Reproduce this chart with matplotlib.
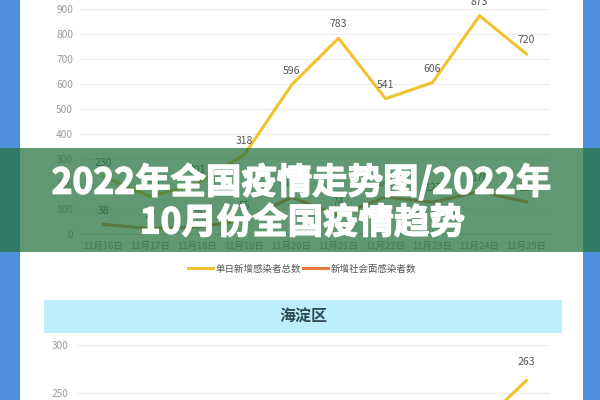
import matplotlib
matplotlib.use("Agg")
import matplotlib.pyplot as plt
import matplotlib.patheffects as pe
from matplotlib.patches import Rectangle
import numpy as np

plt.rcParams['font.family'] = ['Noto Sans CJK SC', 'DejaVu Sans']

# ---- data ----
dates = ["11月16日", "11月17日", "11月18日", "11月19日", "11月20日",
         "11月21日", "11月22日", "11月23日", "11月24日", "11月25日"]
total_new = [230, 150, 201, 318, 596, 783, 541, 606, 873, 720]
social_new = [38, 22, 28, 55, 147, 74, 148, 127, 170, 128]
series_names = ["单日新增感染者总数", "新增社会面感染者数"]
haidian_total = [np.nan] * 8 + [216, 263]
top_yticks = [0, 100, 200, 300, 400, 500, 600, 700, 800, 900]
low_yticks = [250, 300]
title_lines = ["2022年全国疫情走势图/2022年", "10月份全国疫情趋势"]
district = "海淀区"

# ---- style ----
W, H = 600, 400
BLUE = "#4d8fdb"
YELLOW = "#f2c12e"
ORANGE = "#e87d3e"
GRID = "#ececec"
TICK = "#9a9a9a"
LABEL = "#555555"

fig = plt.figure(figsize=(6, 4), dpi=100)
fig.patch.set_facecolor(BLUE)

def fx(px):
    return px / W

def fy(py):
    return (H - py) / H

# background white panel
bg = fig.add_axes([0, 0, 1, 1], zorder=0)
bg.set_xlim(0, 1); bg.set_ylim(0, 1); bg.axis("off")
bg.add_patch(Rectangle((fx(20), 0), fx(583) - fx(20), 1, color="white", lw=0))
# district header bar
bg.add_patch(Rectangle((fx(44), fy(333)), fx(562) - fx(44), fy(300) - fy(333),
                       color="#bdeefb", lw=0))
bg.text(fx(303), fy(317), district, ha="center", va="center", fontsize=11.5,
        fontweight="bold", color="#2e4a52")

def style_axes(ax, yticks, pad):
    ax.set_facecolor("none")
    for s in ["top", "right", "left"]:
        ax.spines[s].set_visible(False)
    ax.spines["bottom"].set_color("#cccccc")
    ax.spines["bottom"].set_linewidth(0.8)
    ax.set_yticks(yticks)
    ax.tick_params(axis="y", length=0, pad=pad, labelsize=7.3, labelcolor=TICK)
    ax.tick_params(axis="x", length=0, pad=6, labelsize=6.8, labelcolor="#888888")
    ax.grid(axis="y", color=GRID, lw=0.8)
    ax.set_axisbelow(True)

# ---- top chart ----
x = np.arange(len(dates))
ax = fig.add_axes([fx(80), fy(234), fx(550) - fx(80), fy(9) - fy(234)], zorder=1)
style_axes(ax, top_yticks, 5)
ax.set_ylim(0, 900)
ax.set_xlim(-0.5, len(dates) - 0.5)
ax.set_xticks(x)
ax.set_xticklabels(dates)
l1, = ax.plot(x, total_new, color=YELLOW, lw=2.2, solid_joinstyle="round", clip_on=False)
l2, = ax.plot(x, social_new, color=ORANGE, lw=2.2, solid_joinstyle="round", clip_on=False)
for xi, v in zip(x, total_new):
    ax.annotate(str(v), (xi, v), xytext=(0, 10), textcoords="offset points",
                ha="center", va="center", fontsize=7.5, color=LABEL,
                annotation_clip=False)
for xi, v in zip(x, social_new):
    ax.annotate(str(v), (xi, v), xytext=(0, 10), textcoords="offset points",
                ha="center", va="center", fontsize=7.5, color=LABEL,
                annotation_clip=False)

fig.legend([l1, l2], series_names, loc="center", bbox_to_anchor=(fx(302), fy(269)),
           ncol=2, frameon=False, fontsize=6.8, handlelength=2.6,
           handletextpad=0.3, columnspacing=0.2, labelcolor=LABEL)

# ---- lower chart (海淀区), only its top part is in view ----
ax2 = fig.add_axes([fx(77), fy(633), fx(550) - fx(77), fy(345) - fy(633)], zorder=1)
style_axes(ax2, low_yticks, 6)
ax2.set_ylim(0, 300)
ax2.set_xlim(-0.5, len(dates) - 0.5)
ax2.set_xticks(x)
ax2.set_xticklabels([])
ax2.spines["bottom"].set_visible(False)
ax2.plot(x, haidian_total, color=YELLOW, lw=2.2)
for xi, v in zip(x, haidian_total):
    if not np.isnan(v) and v > 240:
        ax2.annotate(str(int(v)), (xi, v), xytext=(0, 13), textcoords="offset points",
                     ha="center", va="center", fontsize=7.5, color=LABEL)

# ---- overlay banner ----
ov = fig.add_axes([0, 0, 1, 1], zorder=10)
ov.set_xlim(0, 1); ov.set_ylim(0, 1); ov.axis("off")
ov.add_patch(Rectangle((0, fy(252)), 1, fy(148) - fy(252),
                       facecolor=(40 / 255, 118 / 255, 64 / 255, 0.74), lw=0))
thick = [pe.withStroke(linewidth=1.0, foreground="white")]
ov.text(fx(301), fy(182), title_lines[0], ha="center", va="center",
        fontsize=25.5, fontweight="heavy", color="white", path_effects=thick)
ov.text(fx(302), fy(223), title_lines[1], ha="center", va="center",
        fontsize=25.5, fontweight="heavy", color="white", path_effects=thick)

fig.savefig("out.png", dpi=100, facecolor=fig.get_facecolor())
